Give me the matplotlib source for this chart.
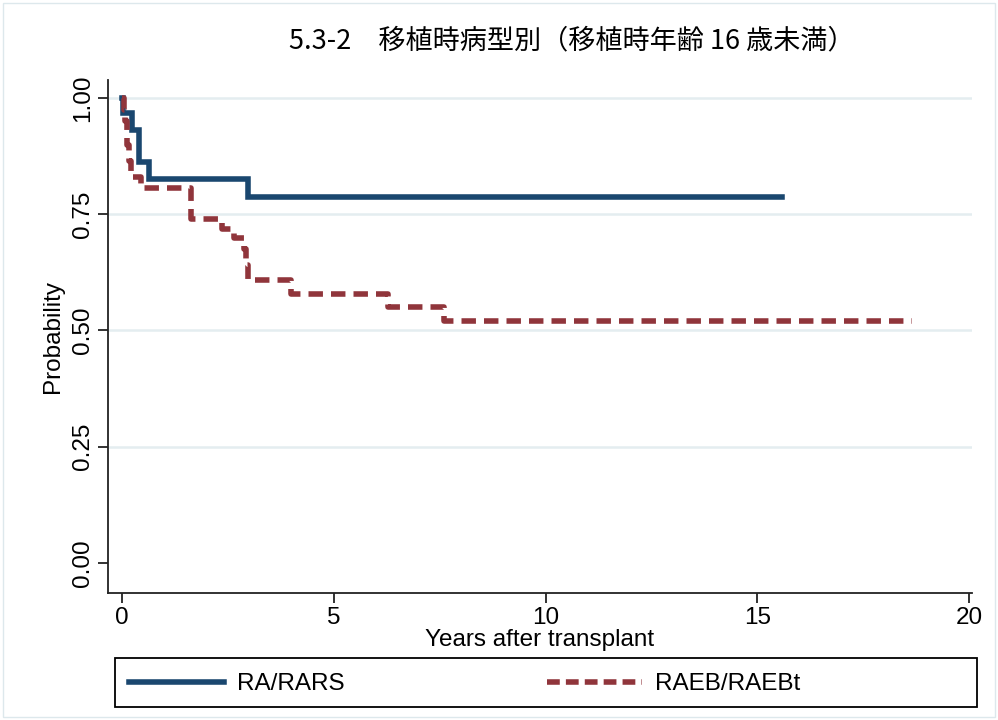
import matplotlib
matplotlib.use("Agg")
import matplotlib.pyplot as plt
from matplotlib.patches import Rectangle
from matplotlib.lines import Line2D

# ---- data ----
title = "5.3-2\u3000移植時病型別（移植時年齢 16 歳未満）"
series_names = ["RA/RARS", "RAEB/RAEBt"]
ra_time = [0, 0.03, 0.23, 0.41, 0.645, 2.98, 15.58]
ra_surv = [1.0, 0.968, 0.931, 0.863, 0.827, 0.788, 0.788]
raeb_time = [0, 0.04, 0.08, 0.12, 0.17, 0.22, 0.45, 1.62, 2.35, 2.64, 2.88, 2.93, 2.97, 4.0, 6.29, 7.6, 18.65]
raeb_surv = [1.0, 0.975, 0.95, 0.90, 0.865, 0.83, 0.806, 0.739, 0.718, 0.70, 0.675, 0.64, 0.608, 0.578, 0.551, 0.520, 0.520]
x_ticks = [0, 5, 10, 15, 20]
y_ticks = [0.0, 0.25, 0.5, 0.75, 1.0]
y_ticklabels = ["0.00", "0.25", "0.50", "0.75", "1.00"]
x_label = "Years after transplant"
y_label = "Probability"

blue = "#1a476f"
red = "#90353b"
sans = ["Liberation Sans", "DejaVu Sans"]
fs = 17.5

W, H = 998, 720
fig = plt.figure(figsize=(W / 100, H / 100), dpi=100)
fig.patch.set_facecolor("white")

def fx(px):
    return px / W

def fy(py):
    return 1 - py / H

ax = fig.add_axes([fx(108), fy(593), fx(972) - fx(108), fy(80) - fy(593)])
ax.set_xlim(-0.33, 20.07)
ax.set_ylim(-0.065, 1.039)

for y in [0.25, 0.5, 0.75, 1.0]:
    ax.axhline(y, color="#e4edf0", lw=1.8, zorder=0)

ax.step(ra_time, ra_surv, where="post", color=blue, lw=4.0,
        solid_joinstyle="miter", zorder=3, label=series_names[0])
ax.step(raeb_time, raeb_surv, where="post", color=red, lw=4.0,
        linestyle=(0, (2.6, 1.45)), zorder=3, label=series_names[1])

for s in ["top", "right"]:
    ax.spines[s].set_visible(False)
for s in ["left", "bottom"]:
    ax.spines[s].set_linewidth(1.3)
    ax.spines[s].set_color("#222222")

ax.set_xticks(x_ticks)
ax.set_xticklabels([str(v) for v in x_ticks], family=sans, fontsize=fs)
ax.set_yticks(y_ticks)
ax.set_yticklabels(y_ticklabels, family=sans, fontsize=fs, rotation=90, va="center")
ax.tick_params(axis="both", direction="out", length=7, width=1.3, color="#222222", pad=3)

ax.set_xlabel(x_label, family=sans, fontsize=fs, labelpad=0)
ax.set_ylabel(y_label, family=sans, fontsize=fs, labelpad=6)

fig.text(fx(572), fy(41), title, ha="center", va="center", fontsize=19.5,
         family=["Noto Sans CJK JP", "DejaVu Sans"])

# legend box
fig.patches.append(Rectangle((fx(115), fy(707)), fx(977) - fx(115), fy(658) - fy(707),
                             transform=fig.transFigure, fill=False, edgecolor="black", lw=1.3))
h1 = Line2D([], [], color=blue, lw=4.0)
h2 = Line2D([], [], color=red, lw=4.0, linestyle=(0, (2.3, 1.1)))
leg1 = fig.legend([h1], [series_names[0]], loc="center left",
                  bbox_to_anchor=(fx(119), fy(684)), frameon=False,
                  handlelength=3.9, handletextpad=0.55, borderaxespad=0,
                  prop={"family": sans, "size": fs})
leg2 = fig.legend([h2], [series_names[1]], loc="center left",
                  bbox_to_anchor=(fx(537), fy(684)), frameon=False,
                  handlelength=3.9, handletextpad=0.55, borderaxespad=0,
                  prop={"family": sans, "size": fs})

# outer light border
fig.patches.append(Rectangle((fx(3), fy(717)), fx(992), fy(3) - fy(717), transform=fig.transFigure,
                             fill=False, edgecolor="#dde8ec", lw=1.0))

fig.savefig("out.png", dpi=100)
